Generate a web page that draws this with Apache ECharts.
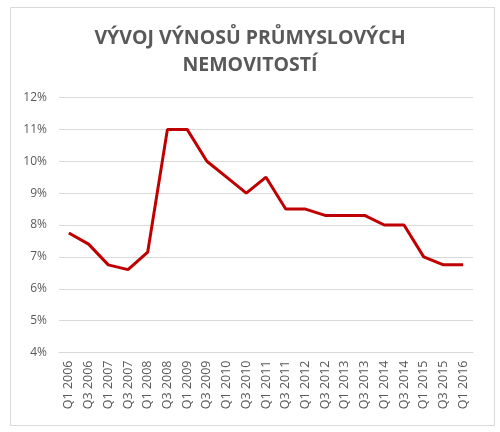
<!DOCTYPE html>
<html><head><meta charset="utf-8">
<script src="https://cdn.jsdelivr.net/npm/echarts@6/dist/echarts.min.js"></script>
<style>html,body{margin:0;padding:0;background:#fff}#c{width:500px;height:432px}</style>
</head><body><div id="c"></div>
<script>
const categories = ["Q1 2006","Q3 2006","Q1 2007","Q3 2007","Q1 2008","Q3 2008","Q1 2009","Q3 2009","Q1 2010","Q3 2010","Q1 2011","Q3 2011","Q1 2012","Q3 2012","Q1 2013","Q3 2013","Q1 2014","Q3 2014","Q1 2015","Q3 2015","Q1 2016"];
const yields = [7.75,7.4,6.75,6.6,7.15,11,11,10,9.5,9,9.5,8.5,8.5,8.3,8.3,8.3,8,8,7,6.75,6.75];
const titleText = "VÝVOJ VÝNOSŮ PRŮMYSLOVÝCH\nNEMOVITOSTÍ";

const chart = echarts.init(document.getElementById('c'), null, {renderer:'canvas'});
chart.setOption({
  animation:false,
  backgroundColor:'#fff',
  graphic:[{type:'rect',left:8,top:5,shape:{width:484,height:418},style:{fill:'none',stroke:'#d9d9d9',lineWidth:1},silent:true}],
  title:{text:titleText,left:'center',top:20,textStyle:{fontFamily:'Open Sans',fontWeight:'bold',fontSize:19.5,color:'#595959',lineHeight:27}},
  grid:{left:59,right:27,top:97.5,bottom:79.5},
  xAxis:{type:'category',data:categories,boundaryGap:true,
    axisLine:{show:true,lineStyle:{color:'#d9d9d9'}},axisTick:{show:false},
    axisLabel:{rotate:90,interval:0,fontFamily:'Open Sans',fontSize:12.5,color:'#595959',margin:8},
    splitLine:{show:false}},
  yAxis:{type:'value',min:4,max:12,interval:1,
    axisLine:{show:false},axisTick:{show:false},
    axisLabel:{formatter:v=>v+'%',fontFamily:'Open Sans',fontSize:12,color:'#595959',margin:12},
    splitLine:{lineStyle:{color:'#d9d9d9'}}},
  series:[{type:'line',data:yields,symbol:'none',lineStyle:{color:'#C00000',width:3},z:3}]
});
</script></body></html>
